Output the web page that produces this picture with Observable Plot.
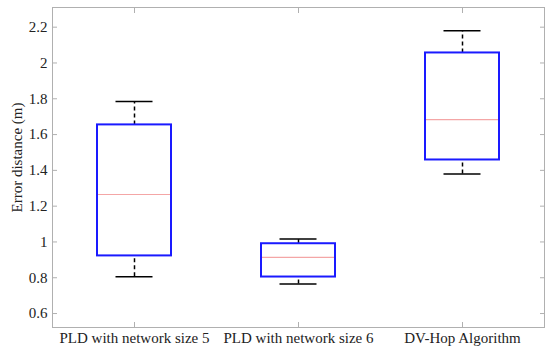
<!DOCTYPE html>
<html>
<head>
<meta charset="utf-8">
<script src="https://cdn.jsdelivr.net/npm/d3@7"></script>
<script src="https://cdn.jsdelivr.net/npm/@observablehq/plot@0.6"></script>
<style>
  html, body { margin: 0; padding: 0; background: #fff; }
  #chart svg { display: block; }
</style>
</head>
<body>
<div id="chart"></div>
<script>
const categories = ["PLD with network size 5", "PLD with network size 6", "DV-Hop Algorithm"];
const whiskerLow  = [0.806, 0.765, 1.380];
const q1          = [0.922, 0.804, 1.458];
const median      = [1.265, 0.914, 1.684];
const q3          = [1.654, 0.990, 2.056];
const whiskerHigh = [1.785, 1.017, 2.180];
const yTicks = [0.6, 0.8, 1.0, 1.2, 1.4, 1.6, 1.8, 2.0, 2.2];
const yLabel = "Error distance (m)";

const data = categories.map((c, i) => ({
  cat: c, lo: whiskerLow[i], q1: q1[i], med: median[i], q3: q3[i], hi: whiskerHigh[i]
}));

const font = "'Liberation Serif', 'DejaVu Serif', serif";
const tickColor = "#b0b0b0";
const fmt = d3.format("~g");

const chart = Plot.plot({
  width: 550,
  height: 353,
  marginLeft: 52,
  marginRight: 6,
  marginTop: 7,
  marginBottom: 26,
  style: { fontFamily: font, fontSize: "15px", color: "#222", background: "#fff" },
  x: { type: "band", domain: categories, paddingInner: 0.549, paddingOuter: 0.2745, label: null },
  y: { domain: [0.522, 2.31], label: null },
  marks: [
    Plot.frame({ stroke: tickColor, strokeWidth: 1 }),
    Plot.axisX({ anchor: "bottom", tickSize: 0, tickPadding: 5, fontSize: 15, fill: "#222" }),
    Plot.axisX({ anchor: "bottom", tickSize: -5, tickFormat: () => "", stroke: tickColor }),
    Plot.axisX({ anchor: "top", tickSize: -5, tickFormat: () => "", stroke: tickColor }),
    Plot.axisY({ anchor: "left", ticks: yTicks, tickSize: 0, tickPadding: 5, tickFormat: fmt, fontSize: 15, fill: "#222", label: null }),
    Plot.axisY({ anchor: "left", ticks: yTicks, tickSize: -5, tickFormat: () => "", stroke: tickColor, label: null }),
    Plot.axisY({ anchor: "right", ticks: yTicks, tickSize: -5, tickFormat: () => "", stroke: tickColor, label: null }),
    Plot.text([yLabel], { text: d => d, frameAnchor: "left", textAnchor: "middle", rotate: -90, dx: -35, dy: -10, fontSize: 15, fill: "#222" }),
    Plot.ruleX(data, { x: "cat", y1: "q3", y2: "hi", stroke: "#000", strokeWidth: 1.5, strokeDasharray: "4,3" }),
    Plot.ruleX(data, { x: "cat", y1: "lo", y2: "q1", stroke: "#000", strokeWidth: 1.5, strokeDasharray: "4,3" }),
    Plot.tickY(data, { x: "cat", y: "hi", stroke: "#000", strokeWidth: 1.5, insetLeft: 18.5, insetRight: 18.5 }),
    Plot.tickY(data, { x: "cat", y: "lo", stroke: "#000", strokeWidth: 1.5, insetLeft: 18.5, insetRight: 18.5 }),
    Plot.barY(data, { x: "cat", y1: "q1", y2: "q3", fill: "#fff", stroke: "#1a1aff", strokeWidth: 2 }),
    Plot.tickY(data, { x: "cat", y: "med", stroke: "#f4a6a6", strokeWidth: 1.2, insetLeft: 1, insetRight: 1 })
  ]
});
document.getElementById("chart").appendChild(chart);
</script>
</body>
</html>
